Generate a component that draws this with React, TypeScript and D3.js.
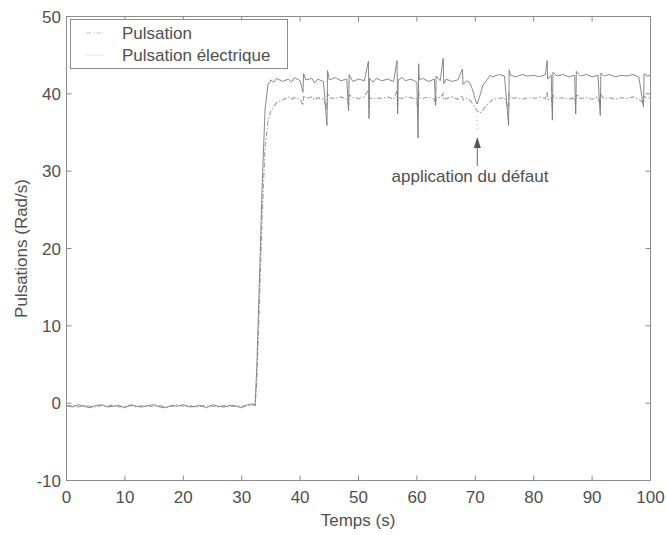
import React from "react";
import * as d3 from "d3";

// ---- data ----
const time: number[] = [
  0, 1, 2, 3, 4, 5, 6, 7, 8, 9, 10, 11, 12, 13, 14, 15, 16, 17, 18, 19, 20, 21, 22, 23, 24, 25, 26, 27, 28, 29, 30, 31, 32,
  32.3, 32.6, 33.0, 33.5, 34.0, 34.5, 35.0, 35.5,
  36, 37, 38, 38.5, 39, 40, 40.5, 40.6, 41, 42, 42.5, 43, 44, 44.6, 44.7, 45, 46, 47, 48, 48.3, 48.4, 49, 50, 51,
  51.7, 51.8, 51.9, 52.5, 53, 54, 55, 56, 56.6, 56.7, 56.8, 57.5, 58, 59, 60, 60.2, 60.3, 60.4, 61, 62, 63, 63.2, 63.3,
  64, 64.5, 64.6, 65, 66, 67, 67.8, 67.9, 68.5, 69, 69.5, 70, 70.3, 70.8, 71.3, 72, 72.6, 73, 74, 75, 75.7, 75.8, 76,
  77, 78, 79, 80, 81, 82, 82.3, 82.4, 83, 83.2, 83.3, 84, 85, 86, 87, 87.2, 87.3, 88, 89, 90, 91, 91.4, 91.5, 92, 93,
  94, 95, 96, 97, 98, 98.8, 98.9, 99.5, 100,
];

const pulsationElectrique: number[] = [
  -0.3, -0.5, -0.2, -0.4, -0.6, -0.3, -0.2, -0.5, -0.4, -0.3, -0.6, -0.2, -0.4, -0.5, -0.3, -0.2, -0.5, -0.6, -0.3, -0.4, -0.2, -0.5, -0.4, -0.3, -0.6, -0.2, -0.4, -0.5, -0.3, -0.4, -0.6, -0.2, -0.1,
  -0.3, 5, 15, 28, 38, 41.2, 41.8, 41.5,
  42.0, 41.6, 41.9, 41.5, 42.1, 41.7, 40.2, 42.6, 41.8, 42.0, 41.4, 41.9, 41.6, 35.9, 43.0, 41.8, 42.1, 41.7, 41.9, 37.8, 42.5, 41.6, 41.9, 41.7,
  44.2, 36.8, 42.0, 41.5, 42.0, 41.7, 41.9, 41.6, 44.3, 37.4, 41.8, 42.1, 41.7, 41.9, 41.5, 34.3, 43.9, 41.8, 42.0, 41.6, 41.9, 38.5, 42.3,
  41.7, 44.6, 41.3, 41.9, 41.6, 41.8, 43.2, 41.2, 41.7, 41.5, 40.6, 39.2, 38.7, 39.8, 41.1, 41.8, 42.4, 42.2, 42.5, 42.3, 35.9, 43.1, 42.4,
  42.2, 42.5, 42.3, 42.4, 42.2, 42.5, 44.3, 41.9, 42.4, 36.6, 42.8, 42.3, 42.5, 42.2, 42.4, 37.4, 42.9, 42.3, 42.5, 42.2, 42.4, 37.2, 42.7, 42.3, 42.5,
  42.2, 42.4, 42.3, 42.5, 42.2, 38.3, 42.6, 42.3, 42.4,
];

const pulsation: number[] = [
  -0.4, -0.3, -0.5, -0.3, -0.4, -0.5, -0.3, -0.4, -0.2, -0.5, -0.4, -0.3, -0.5, -0.3, -0.4, -0.4, -0.3, -0.5, -0.4, -0.2, -0.4, -0.3, -0.5, -0.4, -0.3, -0.4, -0.5, -0.3, -0.4, -0.3, -0.4, -0.3, -0.2,
  -0.3, 3, 12, 24, 33, 36.5, 37.8, 38.4,
  38.9, 39.2, 39.6, 39.3, 39.5, 39.3, 38.5, 39.8, 39.4, 39.6, 39.2, 39.5, 39.3, 38.0, 40.2, 39.5, 39.4, 39.6, 39.3, 38.6, 39.9, 39.5, 39.4, 39.6,
  40.5, 38.2, 39.5, 39.3, 39.5, 39.4, 39.6, 39.3, 40.4, 38.3, 39.5, 39.4, 39.6, 39.5, 39.3, 37.2, 40.6, 39.5, 39.4, 39.6, 39.3, 38.6, 39.6,
  39.5, 40.0, 39.2, 39.4, 39.6, 39.3, 39.8, 39.2, 39.4, 39.2, 38.8, 38.2, 37.8, 37.5, 37.9, 38.6, 39.0, 39.3, 39.4, 39.5, 38.0, 40.1, 39.4,
  39.5, 39.3, 39.5, 39.4, 39.6, 39.4, 40.3, 39.3, 39.5, 38.1, 39.8, 39.4, 39.5, 39.3, 39.5, 38.4, 40.0, 39.4, 39.5, 39.3, 39.6, 38.3, 39.9, 39.4, 39.5,
  39.3, 39.5, 39.4, 39.6, 39.3, 38.8, 39.7, 39.4, 39.5,
];

const xTicks: number[] = [0, 10, 20, 30, 40, 50, 60, 70, 80, 90, 100];
const yTicks: number[] = [-10, 0, 10, 20, 30, 40, 50];
const legendLabels: string[] = ["Pulsation", "Pulsation électrique"];
const annotationTime = 70;
const annotationText = "application du défaut";

export default function App() {
  const W = 666;
  const H = 535;
  const left = 66.5;
  const right = 650.5;
  const top = 16.5;
  const bottom = 480.5;

  const x = d3.scaleLinear().domain([0, 100]).range([left, right]);
  const y = d3.scaleLinear().domain([-10, 50]).range([bottom, top]);

  const line = (vals: number[]) =>
    d3
      .line<number>()
      .x((_, i) => x(time[i]))
      .y((v) => y(v))(vals) || "";

  const font = "'Liberation Sans', Arial, sans-serif";
  const textColor = "#505050";
  const axisColor = "#8c8c8c";
  const fs = 17;
  const tickLen = 5;

  const ax = x(annotationTime) + 2;

  return (
    <svg
      width={W}
      height={H}
      style={{ position: "absolute", left: 0, top: 0, background: "#fff" }}
      fontFamily={font}
    >
      <rect x={0} y={0} width={W} height={H} fill="#fff" />
      {/* series */}
      <path d={line(pulsation)} fill="none" stroke="#9e9e9e" strokeWidth={1.1} strokeDasharray="5,2,1.5,2" />
      <path d={line(pulsationElectrique)} fill="none" stroke="#7a7a7a" strokeWidth={0.9} />

      {/* frame */}
      <rect x={left} y={top} width={right - left} height={bottom - top} fill="none" stroke={axisColor} strokeWidth={1} />
      {xTicks.map((t) => (
        <g key={"x" + t}>
          <line x1={x(t)} x2={x(t)} y1={bottom} y2={bottom - tickLen} stroke={axisColor} />
          <line x1={x(t)} x2={x(t)} y1={top} y2={top + tickLen} stroke={axisColor} />
          <text x={x(t)} y={503} textAnchor="middle" fontSize={fs} fill={textColor}>
            {t}
          </text>
        </g>
      ))}
      {yTicks.map((t) => (
        <g key={"y" + t}>
          <line x1={left} x2={left + tickLen} y1={y(t)} y2={y(t)} stroke={axisColor} />
          <line x1={right} x2={right - tickLen} y1={y(t)} y2={y(t)} stroke={axisColor} />
          <text x={61} y={y(t)} dy="0.36em" textAnchor="end" fontSize={fs} fill={textColor}>
            {t}
          </text>
        </g>
      ))}

      {/* axis labels */}
      <text x={358} y={526} textAnchor="middle" fontSize={fs} fill={textColor}>
        Temps (s)
      </text>
      <text
        transform={`translate(27,${(top + bottom) / 2}) rotate(-90)`}
        textAnchor="middle"
        fontSize={fs}
        fill={textColor}
      >
        Pulsations (Rad/s)
      </text>

      {/* legend */}
      <rect x={70.5} y={19.5} width={217} height={49} fill="#fff" stroke={axisColor} />
      <line x1={86} x2={104} y1={33} y2={33} stroke="#c4c4c4" strokeWidth={1.2} strokeDasharray="5,2,1.5,2" />
      <line x1={86} x2={104} y1={55} y2={55} stroke="#e6e6e6" strokeWidth={1} />
      <text x={122} y={39} fontSize={fs} fill={textColor}>
        {legendLabels[0]}
      </text>
      <text x={122} y={61} fontSize={fs} fill={textColor}>
        {legendLabels[1]}
      </text>

      {/* annotation */}
      <line x1={ax} x2={ax} y1={116} y2={130} stroke="#bbb" strokeDasharray="1,3" />
      <line x1={ax} x2={ax} y1={145} y2={166} stroke="#666" strokeWidth={1} />
      <path d={`M${ax},137 L${ax - 3.5},148 L${ax + 3.5},148 Z`} fill="#555" />
      <text x={470} y={182} textAnchor="middle" fontSize={fs} fill={textColor}>
        {annotationText}
      </text>
    </svg>
  );
}
